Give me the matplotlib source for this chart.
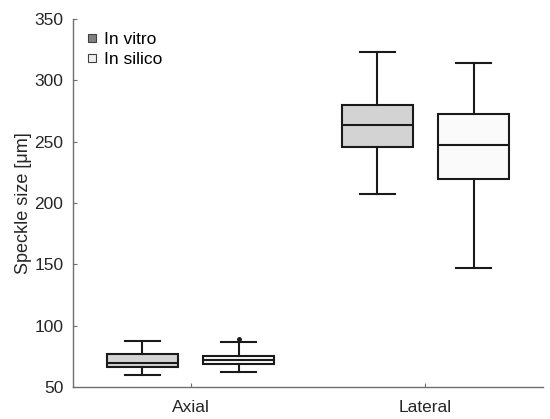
import matplotlib
matplotlib.use('Agg')
import matplotlib.pyplot as plt
from matplotlib.lines import Line2D

plt.rcParams['font.family'] = ['Liberation Sans', 'DejaVu Sans']

groups = ['Axial', 'Lateral']
series = ['In vitro', 'In silico']

# box stats: whislo, q1, med, q3, whishi, fliers
vitro_stats = [
    (60.3, 66.5, 69.4, 76.7, 87.8, []),
    (207.4, 245.5, 263.6, 279.5, 323.3, []),
]
silico_stats = [
    (62.4, 68.6, 71.9, 75.6, 86.5, [89.4]),
    (147.2, 219.6, 247.4, 272.5, 314.3, []),
]

fills = {'In vitro': '#d3d3d3', 'In silico': '#fafafa'}
marker_fills = {'In vitro': '#808080', 'In silico': '#f0f0f0'}
offsets = {'In vitro': -0.205, 'In silico': 0.205}


def to_bxp(stats):
    out = []
    for lo, q1, med, q3, hi, fl in stats:
        out.append(dict(whislo=lo, q1=q1, med=med, q3=q3, whishi=hi, fliers=fl))
    return out


fig, ax = plt.subplots(figsize=(5.5, 4.19), dpi=100)
fig.subplots_adjust(left=0.133, right=0.987, bottom=0.076, top=0.955)

edge = '#1a1a1a'
for name, stats in zip(series, [vitro_stats, silico_stats]):
    pos = [i + 1 + offsets[name] for i in range(len(groups))]
    ax.bxp(to_bxp(stats), positions=pos, widths=0.3, patch_artist=True,
           showfliers=True,
           boxprops=dict(facecolor=fills[name], edgecolor=edge, linewidth=1.5),
           medianprops=dict(color=edge, linewidth=1.5),
           whiskerprops=dict(color=edge, linewidth=1.5),
           capprops=dict(color=edge, linewidth=1.5),
           flierprops=dict(marker='o', markersize=2.5, markerfacecolor=edge,
                           markeredgecolor=edge))

ax.set_xlim(0.5, 2.5)
ax.set_ylim(50, 350)
ax.set_xticks([1, 2])
ax.set_xticklabels(groups)
ax.set_yticks([50, 100, 150, 200, 250, 300, 350])
ax.set_ylabel('Speckle size [μm]', fontsize=13, color='#262626', labelpad=2)

for s in ['top', 'right']:
    ax.spines[s].set_visible(False)
for s in ['left', 'bottom']:
    ax.spines[s].set_color('#6e6e6e')
    ax.spines[s].set_linewidth(1.0)
ax.tick_params(direction='in', length=3, color='#6e6e6e', labelsize=12.5,
               labelcolor='#262626')
ax.tick_params(axis='y', pad=7)
ax.tick_params(axis='x', pad=9)

handles = [Line2D([], [], linestyle='none', marker='s', markersize=6,
                  markerfacecolor=marker_fills[n], markeredgecolor='#404040',
                  markeredgewidth=0.8, label=n) for n in series]
ax.legend(handles=handles, loc='upper left', frameon=False, fontsize=12.5,
          handletextpad=0.3, borderaxespad=0.3, labelspacing=0.3,
          handlelength=0.8, bbox_to_anchor=(0.0, 0.998))

fig.savefig('out.png', dpi=100)
